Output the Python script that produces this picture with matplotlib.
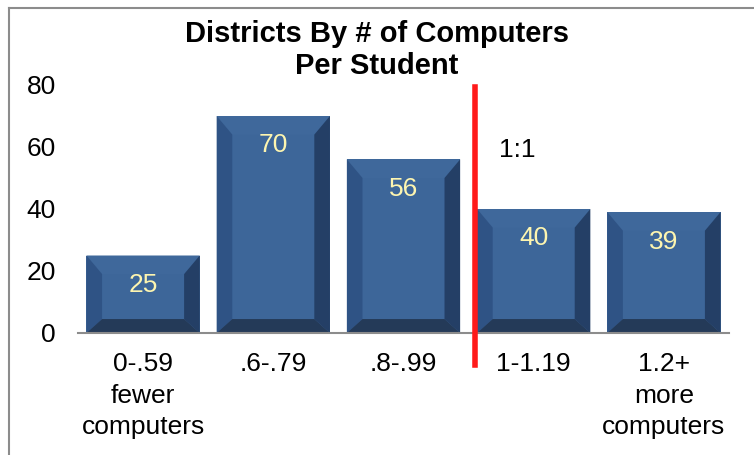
import matplotlib
matplotlib.use("Agg")
import matplotlib.pyplot as plt
from matplotlib.patches import Polygon
from matplotlib.lines import Line2D

categories = ["0-.59\nfewer\ncomputers", ".6-.79", ".8-.99", "1-1.19", "1.2+\nmore\ncomputers"]
districts = [25, 70, 56, 40, 39]
title = "Districts By # of Computers\nPer Student"
marker_label = "1:1"

plt.rcParams["font.family"] = ["Liberation Sans", "DejaVu Sans"]

fig = plt.figure(figsize=(7.54, 4.55), dpi=100)
ax = fig.add_axes([78 / 754, 1 - 333 / 455, (729 - 78) / 754, (333 - 85) / 455])

face = "#3d6699"
left_c = "#2f5385"
right_c = "#243f66"
bottom_c = "#243a58"
top_c = "#3f689b"

x = list(range(len(categories)))
bars = ax.bar(x, districts, width=0.87, color=face, zorder=2)

# bevel depth in data units
bx, by = 0.12, 4.5
for b in bars:
    x0, x1 = b.get_x(), b.get_x() + b.get_width()
    y0, y1 = 0, b.get_height()
    ix0, ix1, iy0, iy1 = x0 + bx, x1 - bx, y0 + by, y1 - 6
    for pts, c in [
        ([(x0, y1), (x1, y1), (ix1, iy1), (ix0, iy1)], top_c),
        ([(x0, y0), (x0, y1), (ix0, iy1), (ix0, iy0)], left_c),
        ([(x1, y0), (x1, y1), (ix1, iy1), (ix1, iy0)], right_c),
        ([(x0, y0), (x1, y0), (ix1, iy0), (ix0, iy0)], bottom_c),
    ]:
        ax.add_patch(Polygon(pts, closed=True, facecolor=c, edgecolor="none", zorder=3))
    ax.text(b.get_x() + b.get_width() / 2, y1 - 9.5, str(int(y1)), ha="center", va="center",
            color="#fdf5b0", fontsize=19, zorder=4)

ax.set_xlim(-0.5, len(categories) - 0.5)
ax.set_ylim(0, 80)
ax.set_yticks([0, 20, 40, 60, 80])
ax.set_xticks(x)
ax.set_xticklabels(categories, fontsize=19, linespacing=1.38)
ax.tick_params(axis="y", labelsize=19, length=0, pad=16)
ax.tick_params(axis="x", length=0, pad=14)
for s in ["top", "right", "left"]:
    ax.spines[s].set_visible(False)
ax.spines["bottom"].set_color("#8c8c8c")
ax.spines["bottom"].set_linewidth(1.5)
ax.spines["bottom"].set_zorder(5)

# red 1:1 divider
ax.axvline(2.55, ymin=-0.13, ymax=0.99, color="#ff1a1a", linewidth=4, clip_on=False, zorder=6)
ax.text(2.73, 59, marker_label, fontsize=19, ha="left", va="center")

fig.text(0.5, 1 - 50 / 455, title, ha="center", va="center", fontsize=21,
         fontweight="bold", linespacing=1.15)

# chart frame
fig.add_artist(Line2D([9 / 754, 9 / 754], [0, 1 - 8 / 455], transform=fig.transFigure,
                      color="#8c8c8c", linewidth=1.5))
fig.add_artist(Line2D([9 / 754, 1], [1 - 8 / 455, 1 - 8 / 455], transform=fig.transFigure,
                      color="#8c8c8c", linewidth=1.5))

fig.savefig("out.png", dpi=100)
